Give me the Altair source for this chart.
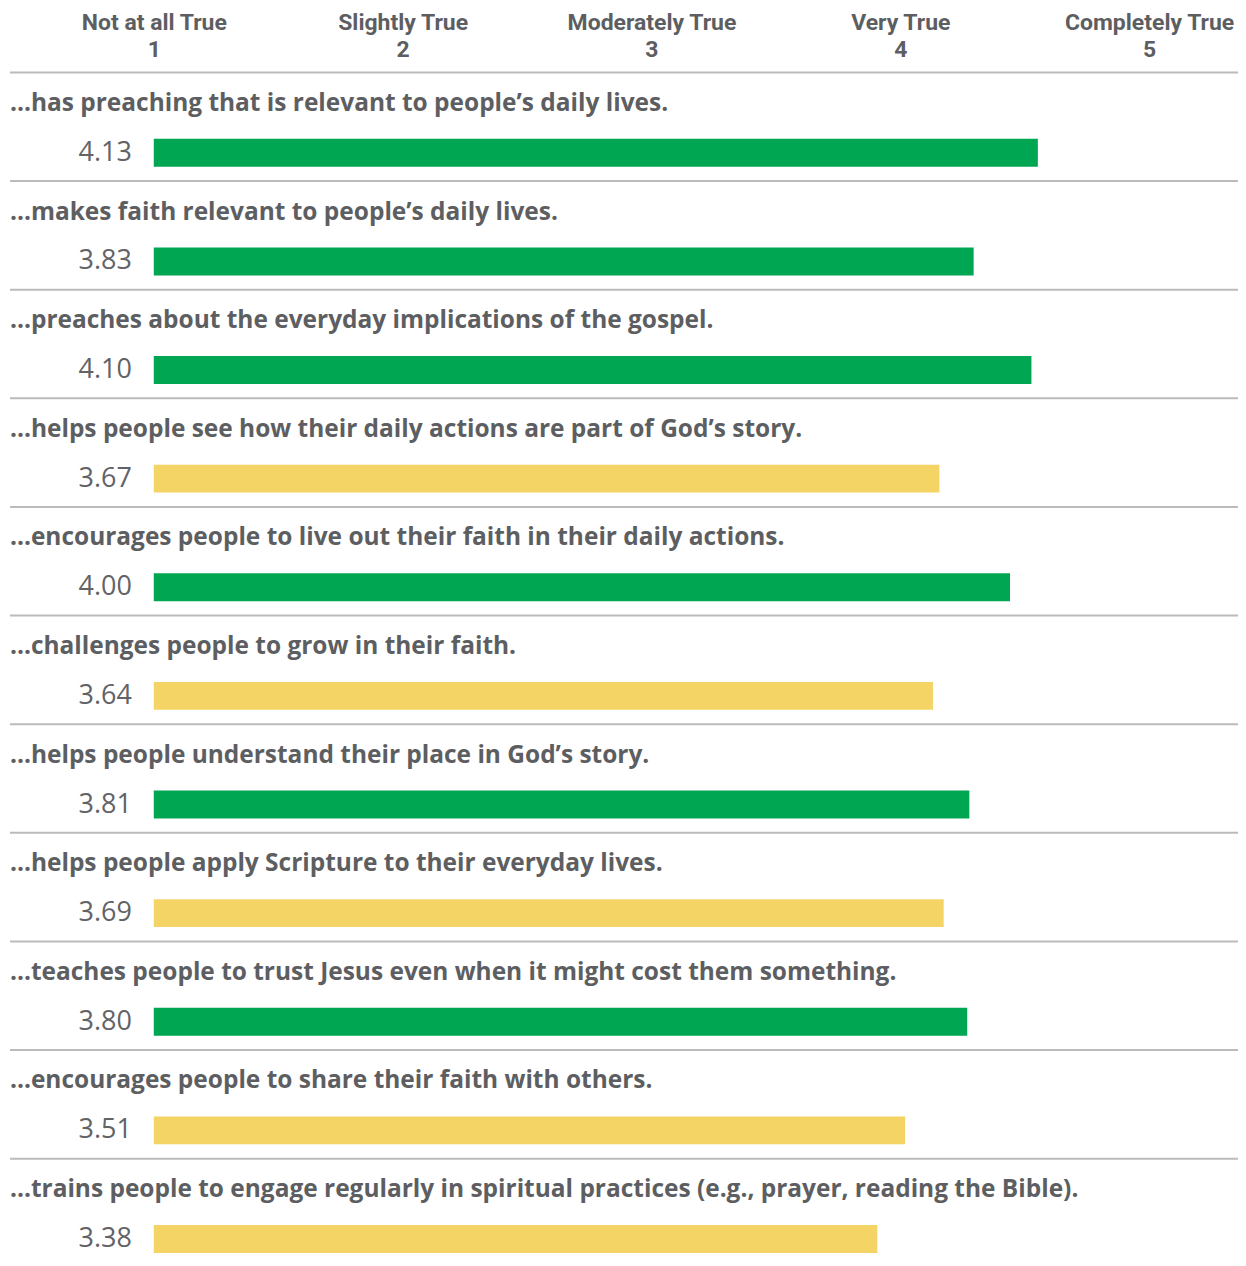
import altair as alt
import pandas as pd

statements = [
    "...has preaching that is relevant to people\u2019s daily lives.",
    "...makes faith relevant to people\u2019s daily lives.",
    "...preaches about the everyday implications of the gospel.",
    "...helps people see how their daily actions are part of God\u2019s story.",
    "...encourages people to live out their faith in their daily actions.",
    "...challenges people to grow in their faith.",
    "...helps people understand their place in God\u2019s story.",
    "...helps people apply Scripture to their everyday lives.",
    "...teaches people to trust Jesus even when it might cost them something.",
    "...encourages people to share their faith with others.",
    "...trains people to engage regularly in spiritual practices (e.g., prayer, reading the Bible).",
]
scores = [4.13, 3.83, 4.10, 3.67, 4.00, 3.64, 3.81, 3.69, 3.80, 3.51, 3.38]
scale_names = ["Not at all True", "Slightly True", "Moderately True", "Very True", "Completely True"]
scale_points = [1, 2, 3, 4, 5]
threshold = 3.8

df = pd.DataFrame({
    "row": list(range(len(statements))),
    "statement": statements,
    "score": scores,
})
df["level"] = ["high" if s >= threshold - 1e-9 else "low" for s in scores]
df["label"] = [f"{s:.2f}" for s in scores]

hdr = pd.DataFrame({"point": scale_points, "name": scale_names})
hdr["num"] = [str(p) for p in scale_points]

W, H = 1232, 1250
xscale = alt.Scale(domain=[-0.681, 5.065], nice=False, zero=False, padding=0)
yscale = alt.Scale(domain=[-1.3235, 10.1655], nice=False, zero=False, reverse=True, padding=0)
TXT = "#5d5e61"

base = alt.Chart(df)

seps = base.mark_rule(color="#bbbbbb", strokeWidth=2).transform_calculate(
    sep="datum.row - 0.74"
).encode(
    y=alt.Y("sep:Q", scale=yscale, axis=None),
    x=alt.value(2),
    x2=alt.value(1232),
)

bars = base.mark_bar(orient="horizontal", size=28).encode(
    x=alt.X("score:Q", scale=xscale, axis=None),
    x2=alt.datum(0),
    y=alt.Y("row:Q", scale=yscale, axis=None),
    color=alt.Color("level:N", scale=alt.Scale(domain=["high", "low"], range=["#00a651", "#f4d464"]), legend=None),
)

labels = base.mark_text(
    align="left", baseline="middle", font="Open Sans", fontWeight="bold", fontSize=24.5, color=TXT
).transform_calculate(
    ly="datum.row - 0.45"
).encode(
    x=alt.value(2),
    y=alt.Y("ly:Q", scale=yscale, axis=None),
    text="statement:N",
)

values = base.mark_text(
    align="right", baseline="middle", font="Open Sans", fontSize=27, color="#626366", dx=-22
).encode(
    x=alt.datum(0),
    y=alt.Y("row:Q", scale=yscale, axis=None),
    text="label:N",
)

main = alt.layer(seps, bars, labels, values)

hx = alt.X("point:Q", scale=alt.Scale(domain=[0.4122, 5.3551], nice=False, zero=False, padding=0), axis=None)
header_names = alt.Chart(hdr).mark_text(
    align="center", baseline="alphabetic", font="Roboto", fontWeight="bold", fontSize=23, color=TXT
).encode(x=hx, y=alt.value(21.5), text="name:N")
header_nums = alt.Chart(hdr).mark_text(
    align="center", baseline="alphabetic", font="Roboto", fontWeight="bold", fontSize=23, color=TXT
).encode(x=hx, y=alt.value(48), text="num:N")
header = alt.layer(header_names, header_nums)

chart = alt.layer(main, header).resolve_scale(x="independent").properties(
    width=W, height=H, padding=0, autosize=alt.AutoSizeParams(type="none")
).configure_view(stroke=None)

chart.save("out.html", embed_options={"renderer": "svg", "actions": False})
